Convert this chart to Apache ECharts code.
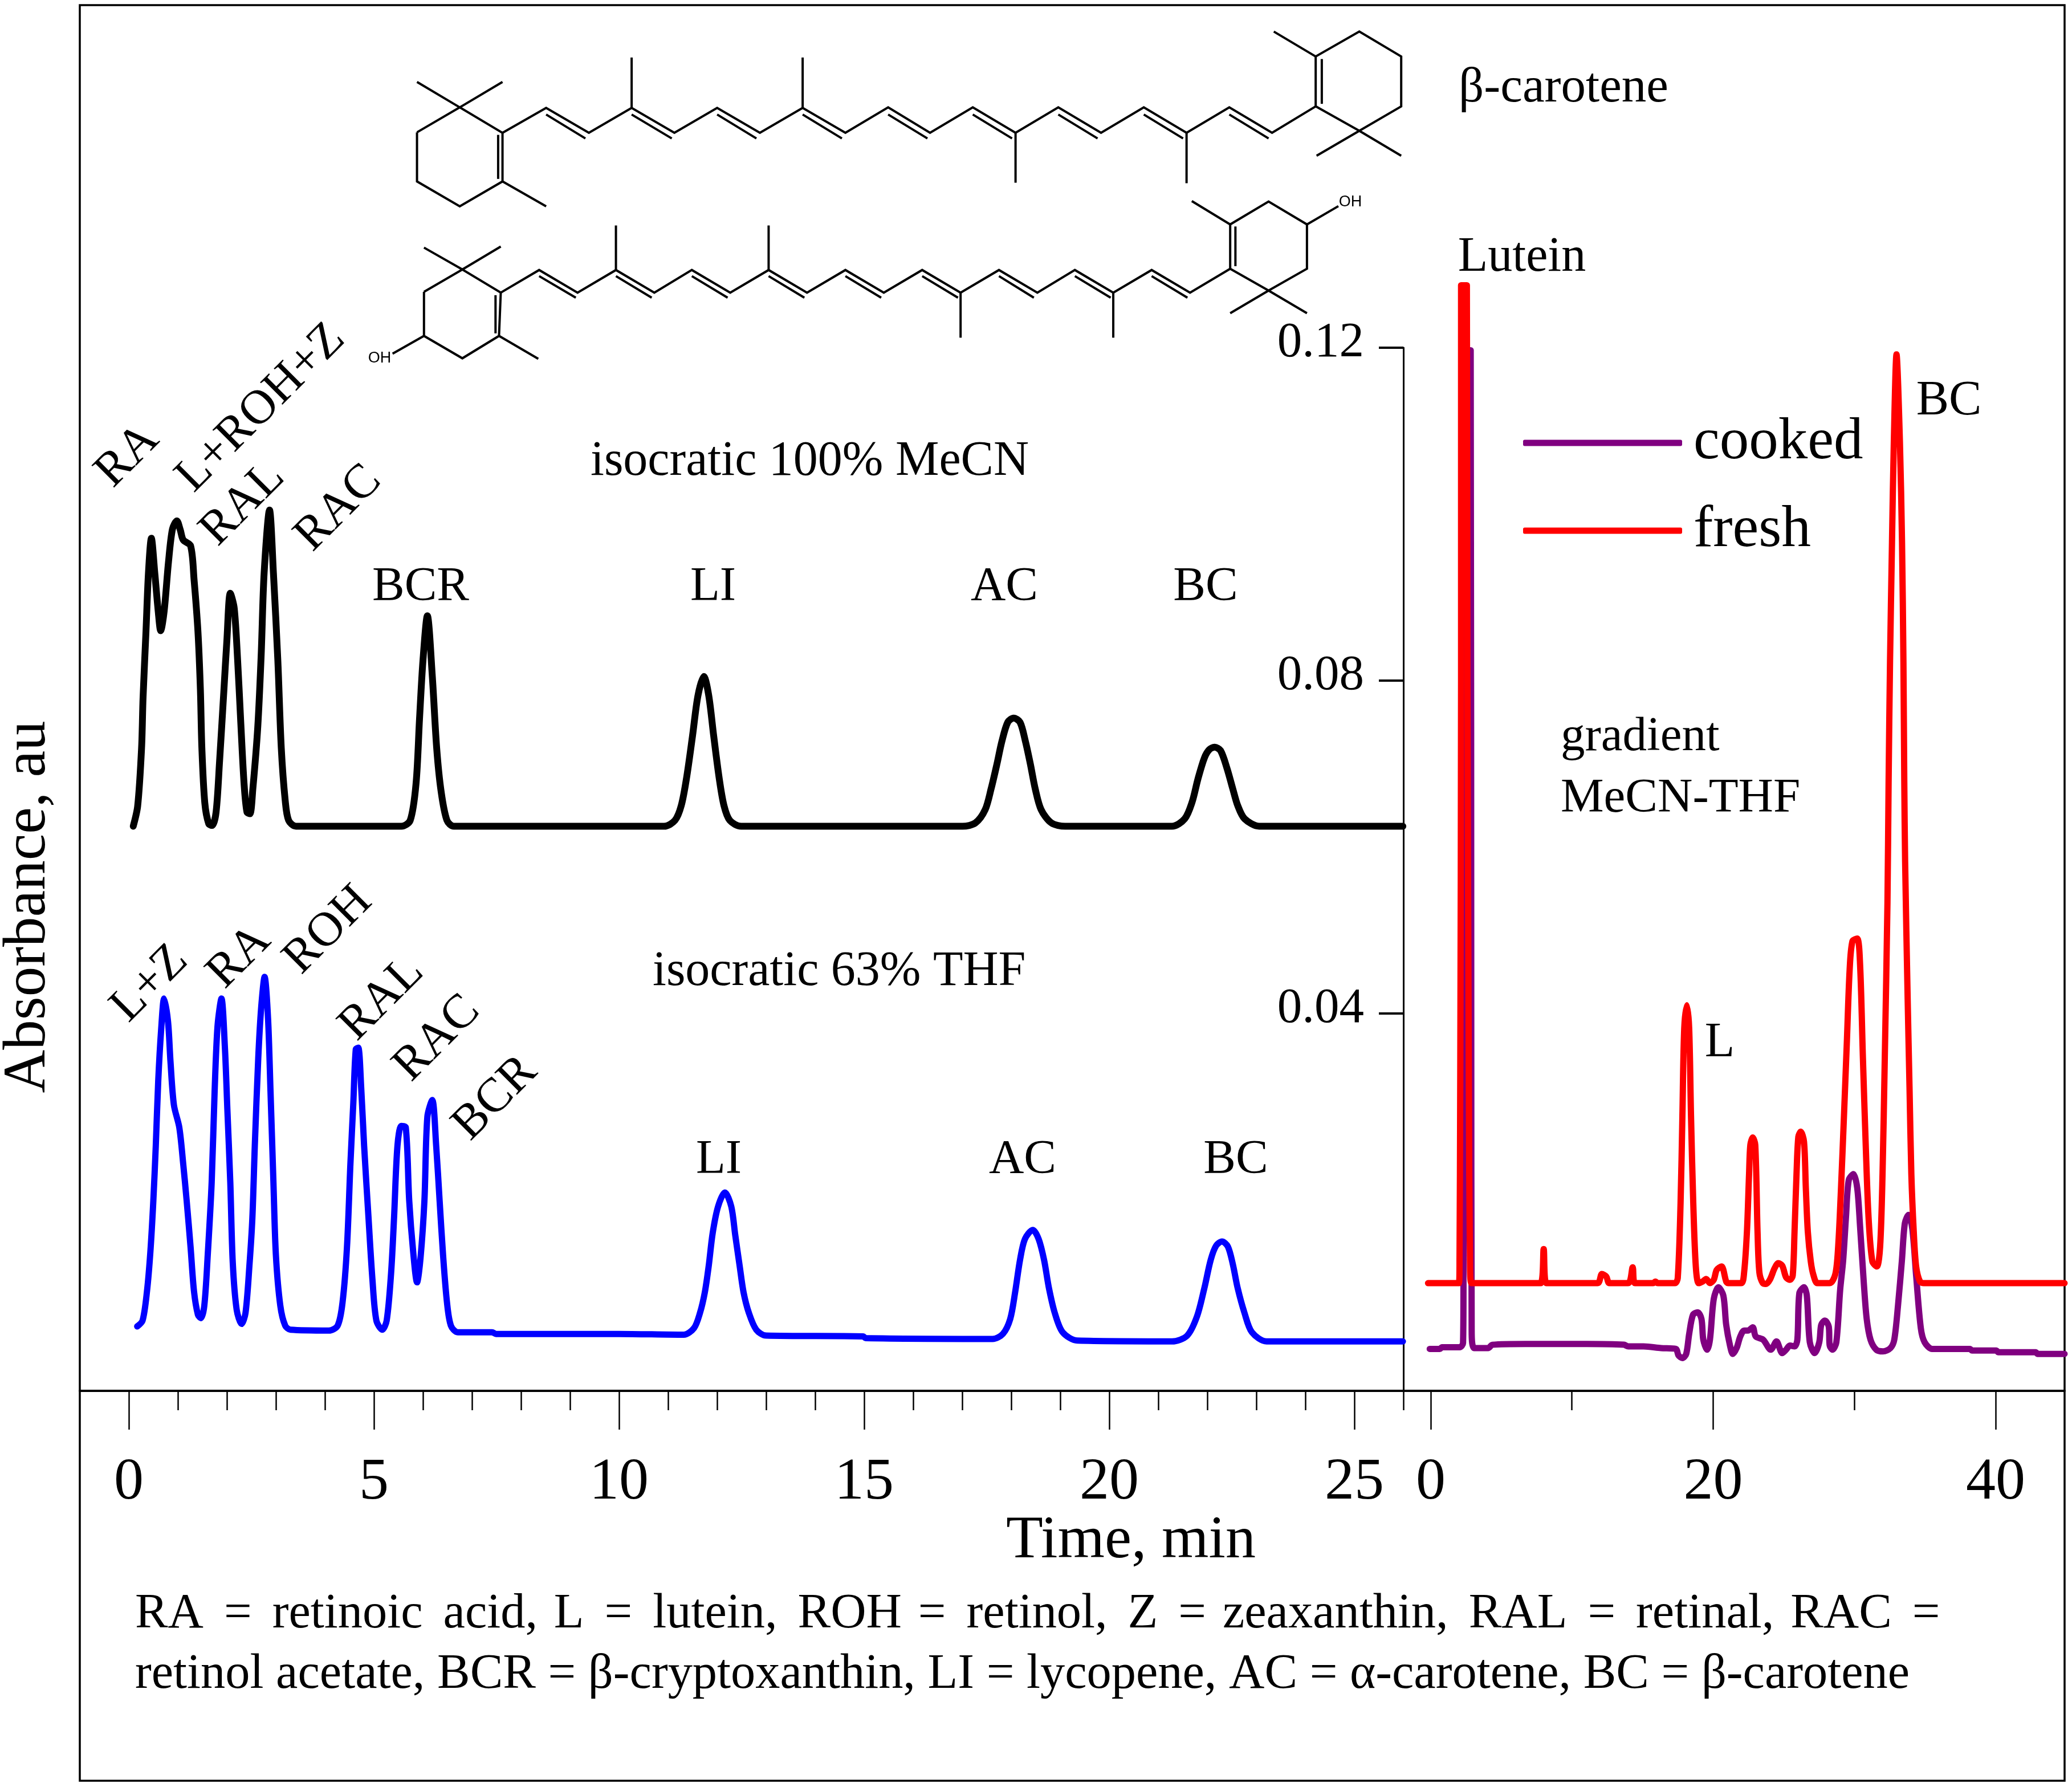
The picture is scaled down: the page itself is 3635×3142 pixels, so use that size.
<!DOCTYPE html>
<html>
<head>
<meta charset="utf-8">
<style>html,body{margin:0;padding:0;background:#fff}#c{width:3635px;height:3142px}</style>
<script src="https://cdn.jsdelivr.net/npm/echarts@6/dist/echarts.min.js"></script>
</head>
<body>
<div id="c"></div>
<script>
// ---- data: time (min) / absorbance (au)
const leftMajorTicks = [0, 5, 10, 15, 20, 25];
const leftMinorTicks = [1,2,3,4,6,7,8,9,11,12,13,14,16,17,18,19,21,22,23,24,26];
const rightMajorTicks = [0, 20, 40];
const rightMinorTicks = [10, 30];
const absTicks = [0.04, 0.08, 0.12];

const blackTime = [0.09,0.18,0.26,0.29,0.35,0.40,0.46,0.53,0.60,0.65,0.72,0.81,0.89,0.98,1.05,1.11,1.26,1.33,1.41,1.46,1.49,1.55,1.63,1.70,1.78,1.85,1.94,2.00,2.07,2.15,2.22,2.28,2.35,2.41,2.47,2.53,2.63,2.70,2.76,2.87,2.95,3.04,3.11,3.19,3.26,3.41,5.56,5.74,5.86,5.93,6.00,6.09,6.19,6.28,6.37,6.49,6.63,10.92,11.14,11.27,11.38,11.50,11.61,11.73,11.83,11.93,12.04,12.14,12.26,12.49,17.01,17.27,17.47,17.59,17.71,17.81,17.93,18.05,18.18,18.29,18.39,18.49,18.61,18.82,19.10,21.28,21.54,21.69,21.81,21.94,22.04,22.15,22.27,22.40,22.52,22.62,22.76,23.06,25.99];
const blackAbs = [0.0625,0.0649,0.0719,0.0779,0.0859,0.0929,0.0971,0.0929,0.0883,0.0860,0.0883,0.0943,0.0982,0.0992,0.0981,0.0969,0.0962,0.0922,0.0859,0.0789,0.0719,0.0653,0.0628,0.0626,0.0642,0.0702,0.0789,0.0848,0.0905,0.0887,0.0824,0.0754,0.0677,0.0642,0.0640,0.0670,0.0744,0.0831,0.0929,0.1005,0.0929,0.0824,0.0719,0.0656,0.0632,0.0625,0.0625,0.0632,0.0677,0.0754,0.0824,0.0878,0.0806,0.0719,0.0667,0.0632,0.0625,0.0625,0.0632,0.0650,0.0684,0.0734,0.0782,0.0805,0.0782,0.0734,0.0684,0.0650,0.0632,0.0625,0.0625,0.0629,0.0645,0.0670,0.0700,0.0727,0.0750,0.0755,0.0750,0.0727,0.0700,0.0670,0.0645,0.0629,0.0625,0.0625,0.0634,0.0654,0.0682,0.0707,0.0717,0.0720,0.0716,0.0695,0.0670,0.0650,0.0634,0.0625,0.0625];

const blueTime = [0.17,0.28,0.37,0.44,0.50,0.55,0.60,0.66,0.72,0.80,0.85,0.92,1.03,1.11,1.18,1.26,1.33,1.41,1.47,1.54,1.61,1.69,1.75,1.81,1.89,1.96,2.01,2.07,2.12,2.20,2.30,2.38,2.46,2.52,2.57,2.64,2.70,2.77,2.84,2.89,2.95,3.00,3.09,3.19,3.30,4.08,4.26,4.36,4.45,4.52,4.58,4.63,4.68,4.74,4.80,4.89,4.97,5.05,5.17,5.26,5.35,5.41,5.48,5.56,5.65,5.72,5.80,5.88,5.95,6.03,6.09,6.19,6.27,6.34,6.41,6.49,6.57,6.71,7.41,7.49,10.00,11.32,11.53,11.65,11.75,11.83,11.91,12.02,12.16,12.29,12.37,12.46,12.54,12.65,12.80,13.00,14.98,15.03,17.62,17.83,17.98,18.08,18.18,18.28,18.44,18.56,18.67,18.77,18.89,19.05,19.35,21.28,21.59,21.79,21.94,22.07,22.18,22.30,22.42,22.52,22.62,22.76,22.91,23.21,25.99];
const blueAbs = [0.0024,0.0031,0.0066,0.0114,0.0175,0.0241,0.0319,0.0381,0.0418,0.0390,0.0342,0.0290,0.0263,0.0219,0.0175,0.0119,0.0066,0.0038,0.0034,0.0049,0.0110,0.0197,0.0306,0.0385,0.0418,0.0359,0.0285,0.0197,0.0101,0.0044,0.0027,0.0040,0.0097,0.0154,0.0241,0.0346,0.0407,0.0444,0.0394,0.0307,0.0197,0.0110,0.0049,0.0025,0.0020,0.0019,0.0025,0.0053,0.0119,0.0219,0.0293,0.0357,0.0359,0.0311,0.0241,0.0154,0.0080,0.0031,0.0020,0.0031,0.0088,0.0154,0.0241,0.0265,0.0263,0.0175,0.0114,0.0077,0.0106,0.0175,0.0276,0.0296,0.0241,0.0175,0.0110,0.0053,0.0025,0.0017,0.0017,0.0015,0.0015,0.0014,0.0022,0.0040,0.0065,0.0097,0.0136,0.0168,0.0185,0.0168,0.0134,0.0097,0.0065,0.0040,0.0020,0.0013,0.0012,0.0010,0.0009,0.0015,0.0033,0.0065,0.0104,0.0129,0.0140,0.0129,0.0104,0.0070,0.0040,0.0017,0.0007,0.0006,0.0013,0.0036,0.0070,0.0104,0.0121,0.0126,0.0120,0.0099,0.0070,0.0040,0.0017,0.0006,0.0006];

const freshTime = [-0.19,2.00,2.04,2.09,2.15,2.15,2.56,2.60,2.70,2.78,2.88,7.78,8.00,8.18,11.82,12.12,12.43,12.65,13.98,14.30,14.46,15.75,15.91,16.07,17.29,17.49,17.69,17.82,17.95,18.14,18.30,18.43,18.59,18.77,18.97,19.26,19.50,19.77,20.04,20.25,20.59,20.92,21.05,21.99,22.19,22.39,22.54,22.63,22.80,22.98,23.14,23.27,23.51,23.74,24.01,24.35,24.61,24.89,25.16,25.43,25.63,25.76,25.90,26.03,26.20,26.43,26.56,26.70,26.91,27.11,27.38,28.25,28.65,28.85,29.05,29.26,29.46,29.66,29.86,30.20,30.40,30.60,30.80,31.00,31.27,31.59,31.82,31.99,32.15,32.34,32.42,32.52,32.66,32.79,32.98,33.22,33.37,33.47,33.53,33.59,33.77,33.90,34.03,34.20,34.37,34.64,34.91,44.88];
const freshAbs = [0.0076,0.0076,0.0100,0.0316,0.0800,0.1275,0.1275,0.0800,0.0316,0.0100,0.0076,0.0076,0.0117,0.0076,0.0076,0.0087,0.0084,0.0076,0.0076,0.0095,0.0076,0.0076,0.0078,0.0076,0.0076,0.0082,0.0172,0.0277,0.0382,0.0410,0.0382,0.0277,0.0172,0.0096,0.0076,0.0078,0.0081,0.0076,0.0080,0.0092,0.0096,0.0078,0.0076,0.0076,0.0089,0.0138,0.0207,0.0242,0.0251,0.0242,0.0138,0.0089,0.0076,0.0075,0.0080,0.0094,0.0100,0.0097,0.0083,0.0080,0.0085,0.0138,0.0207,0.0252,0.0258,0.0246,0.0190,0.0138,0.0102,0.0085,0.0076,0.0076,0.0087,0.0120,0.0190,0.0277,0.0364,0.0452,0.0487,0.0490,0.0459,0.0347,0.0242,0.0155,0.0102,0.0096,0.0120,0.0207,0.0347,0.0534,0.0678,0.0822,0.0966,0.1087,0.1192,0.1087,0.0966,0.0822,0.0678,0.0582,0.0417,0.0312,0.0207,0.0138,0.0096,0.0078,0.0076,0.0076];

const cookedTime = [-0.07,0.65,0.80,2.05,2.29,2.32,2.40,2.83,2.87,2.90,3.08,4.06,4.37,6.70,11.04,13.68,13.99,15.07,16.31,17.35,17.55,17.82,18.09,18.30,18.57,18.90,19.17,19.30,19.57,19.77,20.04,20.37,20.72,20.92,21.19,21.39,21.66,21.92,22.19,22.46,22.80,23.01,23.54,24.08,24.48,24.89,25.16,25.43,25.76,25.96,26.10,26.43,26.63,26.84,27.18,27.51,27.65,27.91,28.18,28.25,28.45,28.72,28.99,29.20,29.40,29.60,29.93,30.20,30.40,30.67,30.87,31.14,31.55,32.02,32.55,32.82,33.09,33.36,33.57,33.83,34.10,34.37,34.70,34.97,35.51,38.18,38.33,40.04,40.19,42.83,42.97,44.88];
const cookedAbs = [-0.0003,-0.0003,-0.0001,-0.0001,0.0004,0.0072,0.1197,0.1197,0.0400,0.0019,-0.0002,-0.0002,0.0002,0.0003,0.0003,0.0002,0.0000,0.0000,-0.0002,-0.0003,-0.0011,-0.0014,-0.0009,0.0015,0.0038,0.0041,0.0033,0.0008,-0.0004,0.0008,0.0057,0.0071,0.0061,0.0026,0.0001,-0.0009,-0.0002,0.0012,0.0019,0.0019,0.0023,0.0012,0.0008,-0.0004,0.0006,-0.0008,-0.0004,0.0001,0.0000,0.0008,0.0064,0.0071,0.0061,0.0005,-0.0008,0.0005,0.0026,0.0031,0.0024,0.0001,-0.0004,0.0005,0.0068,0.0103,0.0155,0.0200,0.0207,0.0190,0.0144,0.0075,0.0033,0.0008,-0.0004,-0.0006,-0.0002,0.0008,0.0050,0.0103,0.0148,0.0158,0.0141,0.0085,0.0022,0.0005,-0.0003,-0.0003,-0.0005,-0.0005,-0.0007,-0.0007,-0.0009,-0.0009];

const zip = (a, b) => a.map((v, i) => [v, b[i]]);
const SERIF = '"Liberation Serif","Times New Roman",serif';

const gridTop = 610, axisY = 2440, frameL = 140, frameR = 3622, splitX = 2462, rightGridX = 2460.4;

function lineSeries(name, x, y, color, width, xi, yi, smooth) {
  return { name, type:'line', data: zip(x, y), xAxisIndex: xi, yAxisIndex: yi,
    showSymbol:false, symbol:'none', clip:false, smooth,
    lineStyle:{ color, width, cap:'round', join:'round' }, itemStyle:{color},
    emphasis:{disabled:true} };
}

const tick = (len, w, values) => ({ show:true, length:len, customValues:values, lineStyle:{color:'#000', width:w} });
const sharedY = { min:-0.00534, max:0.12, splitLine:{show:false} };

// ---- peak names and notes
function T(text, x, y, size, opt) {
  opt = opt || {};
  return { type:'text', x, y, rotation: opt.rot || 0, z:50,
    style:{ text, fill:'#000', fontFamily: opt.family || SERIF, fontSize:size,
            align: opt.align || 'center', verticalAlign:'middle' } };
}
const R45 = Math.PI/4;
const words1 = ['RA','=','retinoic','acid,','L','=','lutein,','ROH','=','retinol,','Z','=','zeaxanthin,','RAL','=','retinal,','RAC','='];
const note1 = words1.reduce((s, w, i) => s + (i % 4 === 0 ? ' \u200A' : ' \u2006') + w);
const note2 = 'retinol acetate, BCR = β-cryptoxanthin, LI = lycopene, AC = α-carotene, BC = β-carotene';

const texts = [
  T('β-carotene', 2743, 155, 87),
  T('Lutein', 2670, 452, 86),
  T('BC', 3419, 704, 86),
  T('L', 3017, 1830, 86),
  T('gradient', 2738, 1294, 85, {align:'left'}),
  T('MeCN-THF', 2738, 1402, 85, {align:'left'}),
  T('isocratic 100% MeCN', 1036, 810, 86, {align:'left'}),
  T('isocratic 63% THF', 1145, 1705, 86, {align:'left'}),
  T('BCR', 738, 1031, 85), T('LI', 1251, 1031, 85), T('AC', 1762, 1031, 85), T('BC', 2115, 1031, 85),
  T('LI', 1261, 2036, 85), T('AC', 1794, 2036, 85), T('BC', 2168, 2036, 85),
  T('RA', 224, 800, 85, {rot:R45}),
  T('L+ROH+Z', 458, 716, 85, {rot:R45}),
  T('RAL', 426, 884, 85, {rot:R45}),
  T('RAC', 594, 892, 85, {rot:R45}),
  T('L+Z', 263, 1726, 85, {rot:R45}),
  T('RA', 420, 1679, 85, {rot:R45}),
  T('ROH', 576, 1632, 85, {rot:R45}),
  T('RAL', 670, 1752, 85, {rot:R45}),
  T('RAC', 767, 1822, 85, {rot:R45}),
  T('BCR', 869, 1927, 85, {rot:R45}),
  T('Absorbance, au', 50, 1591, 105, {rot:Math.PI/2}),
  T('Time, min', 1984, 2704, 106),
  T(note1, 237, 2832, 86.4, {align:'left'}),
  T(note2, 237, 2938, 86.4, {align:'left'}),
  T('OH', 666, 629, 27, {family:'"Liberation Sans",sans-serif'}),
  T('OH', 2369, 355, 27, {family:'"Liberation Sans",sans-serif'}),
];

// ---- the two skeletal formulas (decoration, not data)
const skel = [
 // beta-carotene
 [[393,520],[442,422],[491,522],[491,713],[442,811],[393,713],[393,520]],
 [[486,530],[486,703]],[[442,422],[393,322]],[[442,422],[491,322]],[[491,713],[541,811]],
 [[491,522],[541,424],[590,522],[639,424],[688,522],[737,424],[786,522],[835,424],[884,522],[933,422],[981,522],[1030,422],[1079,522],[1128,422],[1177,522],[1226,422],[1275,522],[1324,422],[1373,522],[1423,418]],
 [[1423,418],[1423,222],[1473,124],[1521,222],[1521,418],[1473,514],[1423,418]],
 [[1430,232],[1430,408]],[[1423,222],[1375,124]],[[1473,514],[1424,612]],[[1473,514],[1521,612]],
 [[639,424],[639,226]],[[835,424],[835,226]],[[1079,522],[1079,718]],[[1275,522],[1275,720]],
 [[541,450],[586,544]],[[639,450],[685,544]],[[737,450],[782,544]],[[835,450],[880,544]],[[933,450],[978,544]],[[1030,450],[1075,544]],[[1128,450],[1173,544]],[[1226,450],[1271,544]],[[1324,450],[1369,544]],
 // lutein
 [[401,1147],[445,1059],[489,1150],[487,1320],[445,1408],[401,1320],[401,1147]],
 [[483,1160],[483,1310]],[[445,1059],[401,973]],[[445,1059],[489,969]],[[487,1320],[532,1410]],[[401,1320],[365,1390]],
 [[489,1150],[533,1061],[577,1150],[621,1061],[665,1150],[708,1061],[752,1150],[796,1061],[840,1150],[884,1061],[928,1150],[972,1061],[1016,1150],[1060,1061],[1104,1150],[1147,1061],[1191,1150],[1235,1061],[1279,1150],[1325,1056]],
 [[1325,1056],[1325,882],[1369,792],[1413,882],[1413,1056],[1369,1142],[1325,1056]],
 [[1331,890],[1331,1046]],[[1325,882],[1281,790]],[[1413,882],[1449,810]],[[1369,1142],[1325,1231]],[[1369,1142],[1413,1231]],
 [[621,1061],[621,886]],[[796,1061],[796,886]],[[1016,1150],[1016,1327]],[[1191,1150],[1191,1327]],
 [[533,1085],[575,1170]],[[621,1085],[662,1170]],[[708,1085],[749,1170]],[[796,1085],[837,1170]],[[884,1085],[925,1170]],[[972,1085],[1013,1170]],[[1060,1085],[1100,1170]],[[1147,1085],[1188,1170]],[[1235,1085],[1276,1170]],
];
const skelGraphics = skel.map(p => ({ type:'polyline', z:40,
  shape:{ points:p.map(q => [130 + q[0]/0.6533, q[1]/2.24]) },
  style:{ stroke:'#000', lineWidth:4, fill:null, lineJoin:'miter' } }));

const frame = { type:'rect', z:1, shape:{x:frameL, y:9, width:frameR-frameL, height:3124-9},
  style:{ fill:null, stroke:'#000', lineWidth:3.5 } };

const option = {
  animation:false, backgroundColor:'#fff',
  grid:[
    { left:frameL, width:splitX-frameL, top:gridTop, height:axisY-gridTop, show:false },
    { left:rightGridX, width:frameR-rightGridX, top:gridTop, height:axisY-gridTop, show:false },
  ],
  xAxis:[
    { type:'value', gridIndex:0, position:'bottom', min:-1, max:26, splitLine:{show:false},
      axisLine:{show:true, onZero:false, lineStyle:{color:'#000', width:4}},
      axisTick:tick(68,2.5,leftMajorTicks),
      axisLabel:{show:true, customValues:leftMajorTicks, margin:110, color:'#000', fontFamily:SERIF, fontSize:104, formatter:v=>String(v)} },
    { type:'value', gridIndex:0, position:'bottom', min:-1, max:26, splitLine:{show:false},
      axisLine:{show:false, onZero:false}, axisTick:tick(34,2.5,leftMinorTicks), axisLabel:{show:false} },
    { type:'value', gridIndex:1, position:'bottom', min:-2, max:44.88, splitLine:{show:false},
      axisLine:{show:true, onZero:false, lineStyle:{color:'#000', width:4}},
      axisTick:tick(68,2.5,rightMajorTicks),
      axisLabel:{show:true, customValues:rightMajorTicks, margin:110, color:'#000', fontFamily:SERIF, fontSize:104, formatter:v=>String(v)} },
    { type:'value', gridIndex:1, position:'bottom', min:-2, max:44.88, splitLine:{show:false},
      axisLine:{show:false, onZero:false}, axisTick:tick(34,2.5,rightMinorTicks), axisLabel:{show:false} },
  ],
  yAxis:[
    Object.assign({ type:'value', gridIndex:0, position:'right',
      axisLine:{show:true, onZero:false, lineStyle:{color:'#000', width:3}},
      axisTick:Object.assign(tick(43,4,absTicks), {inside:true}),
      axisLabel:{show:true, inside:true, customValues:absTicks, margin:69, color:'#000', fontFamily:SERIF, fontSize:87,
        formatter:v=>v.toFixed(2), verticalAlign:'bottom', lineHeight:16} }, sharedY),
    Object.assign({ type:'value', gridIndex:1, show:false }, sharedY),
  ],
  legend:{ show:true, orient:'vertical', left:2667, top:712, icon:'roundRect', itemWidth:279, itemHeight:11, itemGap:34,
    data:['cooked','fresh'], selectedMode:false,
    textStyle:{ color:'#000', fontFamily:SERIF, fontSize:103, padding:[16,0,0,15], lineHeight:104 } },
  series:[
    lineSeries('isocratic 100% MeCN', blackTime, blackAbs, '#000000', 12, 0, 0, 0.3),
    lineSeries('isocratic 63% THF', blueTime, blueAbs, '#0000ff', 11, 0, 0, 0.3),
    lineSeries('cooked', cookedTime, cookedAbs, '#800080', 11, 2, 1, 0.3),
    lineSeries('fresh', freshTime, freshAbs, '#ff0000', 11, 2, 1, 0.3),
  ],
  graphic:{ elements:[frame].concat(skelGraphics, texts) },
};
echarts.init(document.getElementById('c'), null, {renderer:'canvas'}).setOption(option);
</script>
</body>
</html>
